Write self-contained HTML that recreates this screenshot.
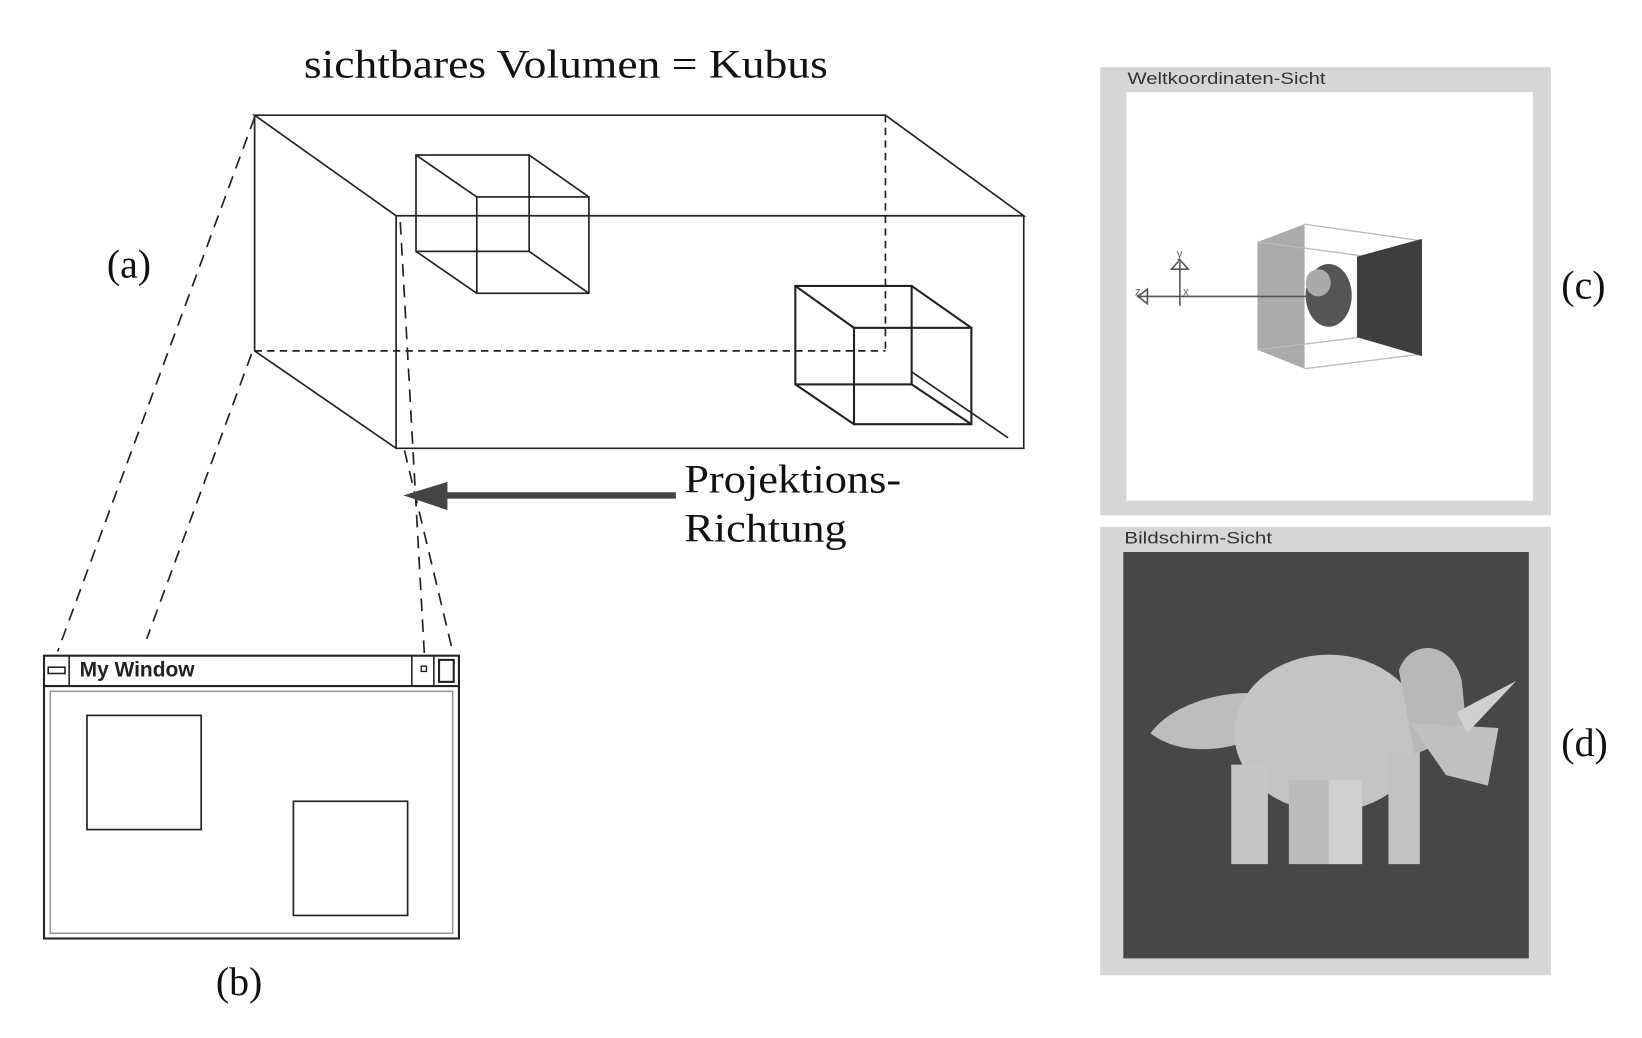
<!DOCTYPE html>
<html><head><meta charset="utf-8"><style>
html,body{margin:0;padding:0;background:#fff;}
svg{display:block;}
</style></head><body>
<svg width="1642" height="1038" viewBox="0 0 1567 991" preserveAspectRatio="none" xmlns="http://www.w3.org/2000/svg">
<rect width="1567" height="991" fill="#fff"/>
<g font-family="Liberation Serif, serif" font-size="38" fill="#111">
<text x="290" y="74" textLength="500" lengthAdjust="spacingAndGlyphs">sichtbares Volumen = Kubus</text>
<text x="653" y="470" textLength="207" lengthAdjust="spacingAndGlyphs">Projektions-</text>
<text x="653" y="517" textLength="155" lengthAdjust="spacingAndGlyphs">Richtung</text>
<text x="102" y="265">(a)</text>
<text x="206" y="950">(b)</text>
<text x="1490" y="285">(c)</text>
<text x="1490" y="722">(d)</text>
</g>
<g stroke="#222" stroke-width="1.6" fill="none">
<path d="M243,110 L845,110 L977,206 L378,206 L243,110 Z"/>
<path d="M243,110 V335 L378,428 H977 V206"/>
<path d="M378,206 V428"/>
<path d="M870,355 L962,418"/>
<path d="M243,335 H845 M845,110 V335" stroke-dasharray="7,5"/>
<rect x="397" y="148" width="108" height="92"/>
<rect x="455" y="188" width="107" height="92"/>
<path d="M397,148 L455,188 M505,148 L562,188 M397,240 L455,280 M505,240 L562,280"/>
<rect x="759" y="273" width="111" height="94" stroke-width="2"/>
<rect x="815" y="313" width="112" height="92" stroke-width="2"/>
<path d="M759,273 L815,313 M870,273 L927,313 M759,367 L815,405 M870,367 L927,405" stroke-width="2"/>
<path d="M243,112 L55,622 M240,338 L140,610 M382,212 L405,625 M386,430 L432,622" stroke-dasharray="12,8"/>
</g>
<line x1="645" y1="473" x2="420" y2="473" stroke="#444" stroke-width="6"/>
<polygon points="385,473 427,460 427,487" fill="#444"/>
<g stroke="#222" fill="none">
<rect x="42" y="626" width="396" height="270" stroke-width="2"/>
<line x1="42" y1="655" x2="438" y2="655" stroke-width="2"/>
<rect x="48" y="660" width="384" height="231" stroke="#999" stroke-width="1.5"/>
<line x1="66" y1="626" x2="66" y2="655" stroke-width="1.5"/>
<line x1="393" y1="626" x2="393" y2="655" stroke-width="1.5"/>
<line x1="414" y1="626" x2="414" y2="655" stroke-width="1.5"/>
<rect x="46" y="637" width="16" height="6" stroke-width="1.5"/>
<rect x="402" y="636" width="5" height="5" stroke-width="1.3"/>
<rect x="419" y="630" width="14" height="21" stroke-width="2"/>
<rect x="83" y="683" width="109" height="109" stroke-width="1.6"/>
<rect x="280" y="765" width="109" height="109" stroke-width="1.6"/>
</g>
<text x="76" y="646" font-family="Liberation Sans, sans-serif" font-weight="bold" font-size="20" fill="#222">My Window</text>
<rect x="1050" y="64" width="430" height="428" fill="#d6d6d6"/>
<rect x="1075" y="88" width="388" height="390" fill="#fff"/>
<text x="1076" y="80" font-family="Liberation Sans, sans-serif" font-size="16" fill="#333" textLength="189" lengthAdjust="spacingAndGlyphs">Weltkoordinaten-Sicht</text>
<polygon points="1200,231 1245,214 1245,352 1200,334" fill="#ababab"/>
<path d="M1245,214 L1357,230 M1245,352 L1357,338 M1200,231 L1298,244 M1200,334 L1298,322" stroke="#bbb" stroke-width="1.3" fill="none"/>
<polygon points="1295,245 1357,228 1357,340 1295,322" fill="#3e3e3e"/>
<ellipse cx="1268" cy="282" rx="22" ry="30" fill="#555"/>
<ellipse cx="1258" cy="270" rx="12" ry="13" fill="#aaa"/>
<g stroke="#555" stroke-width="1.5" fill="none">
<line x1="1085" y1="283" x2="1250" y2="283"/>
<line x1="1126" y1="250" x2="1126" y2="292"/>
<polygon points="1118,257 1126,248 1134,257"/>
<polygon points="1086,283 1095,276 1095,290"/>
</g>
<text x="1123" y="246" font-family="Liberation Sans, sans-serif" font-size="11" fill="#666">y</text>
<text x="1129" y="282" font-family="Liberation Sans, sans-serif" font-size="11" fill="#666">x</text>
<text x="1083" y="282" font-family="Liberation Sans, sans-serif" font-size="11" fill="#666">z</text>
<rect x="1050" y="503" width="430" height="428" fill="#d6d6d6"/>
<rect x="1072" y="527" width="387" height="388" fill="#474747"/>
<text x="1073" y="519" font-family="Liberation Sans, sans-serif" font-size="16" fill="#333" textLength="141" lengthAdjust="spacingAndGlyphs">Bildschirm-Sicht</text>
<g fill="#c8c8c8">
<path d="M1098,700 C1120,670 1170,660 1195,662 L1210,700 C1180,715 1130,725 1098,700 Z" fill="#bdbdbd"/>
<ellipse cx="1268" cy="700" rx="90" ry="75" fill="#c4c4c4"/>
<path d="M1335,640 C1345,610 1385,610 1395,650 L1400,700 L1350,720 Z" fill="#b8b8b8"/>
<path d="M1345,690 L1430,695 L1420,750 L1380,740 Z" fill="#c0c0c0"/>
<path d="M1390,680 L1447,650 L1400,700 Z" fill="#d0d0d0"/>
<rect x="1175" y="730" width="35" height="95" fill="#c6c6c6"/>
<rect x="1230" y="745" width="40" height="80" fill="#bcbcbc"/>
<rect x="1268" y="745" width="32" height="80" fill="#d0d0d0"/>
<rect x="1325" y="720" width="30" height="105" fill="#c2c2c2"/>
</g>
</svg>
</body></html>
